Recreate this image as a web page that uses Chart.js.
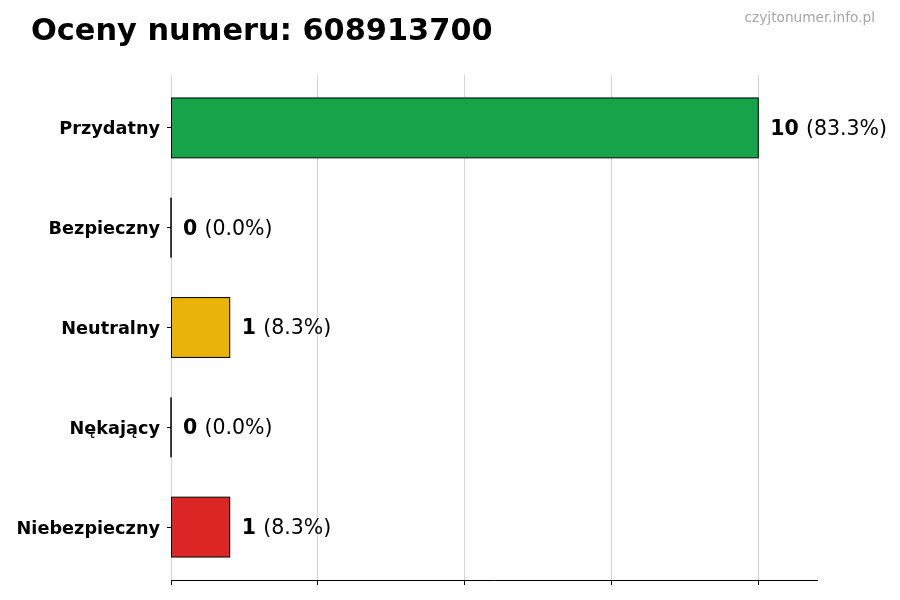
<!DOCTYPE html>
<html>
<head>
<meta charset="utf-8">
<script src="https://cdn.jsdelivr.net/npm/chart.js@4/dist/chart.umd.min.js"></script>
<style>
  html, body { margin: 0; padding: 0; background: #fff; }
  #wrap { position: relative; width: 900px; height: 600px; }
  #title { position: absolute; left: 31px; top: 12px; font-family: "DejaVu Sans", sans-serif; font-weight: bold; font-size: 30.4px; color: #000; white-space: nowrap; }
  #mark { position: absolute; right: 25px; top: 9px; font-family: "DejaVu Sans", sans-serif; font-size: 13.7px; color: #a6a6a6; white-space: nowrap; }
  canvas { position: absolute; left: 0; top: 0; }
</style>
</head>
<body>
<div id="wrap">
  <canvas id="c" width="900" height="600"></canvas>
  <div id="title">Oceny numeru: 608913700</div>
  <div id="mark">czyjtonumer.info.pl</div>
</div>
<script>
const categories = ['Przydatny', 'Bezpieczny', 'Neutralny', 'Nękający', 'Niebezpieczny'];
const counts = [10, 0, 1, 0, 1];
const percentLabels = ['83.3%', '0.0%', '8.3%', '0.0%', '8.3%'];
const barColors = ['#16a34a', '#2563eb', '#eab308', '#f97316', '#dc2626'];
const xTicks = [0, 2.5, 5, 7.5, 10];

const FONT = '"DejaVu Sans", sans-serif';

const outlineAndLabels = {
  id: 'outlineAndLabels',
  afterDatasetsDraw(chart) {
    const ctx = chart.ctx;
    const meta = chart.getDatasetMeta(0);
    ctx.save();
    meta.data.forEach((bar, i) => {
      const p = bar.getProps(['x', 'y', 'base', 'height'], true);
      ctx.strokeStyle = '#000';
      ctx.lineWidth = 1;
      ctx.strokeRect(p.base, p.y - p.height / 2, p.x - p.base, p.height);
      const x0 = p.x + 12;
      const ty = p.y + 1.5;
      ctx.textBaseline = 'middle';
      ctx.textAlign = 'left';
      ctx.fillStyle = '#000';
      ctx.font = 'bold 20.5px ' + FONT;
      const num = String(counts[i]);
      ctx.fillText(num, x0, ty);
      const w = ctx.measureText(num + ' ').width;
      ctx.font = '20.5px ' + FONT;
      ctx.fillText('(' + percentLabels[i] + ')', x0 + w, ty);
    });
    ctx.restore();
  }
};

new Chart(document.getElementById('c'), {
  type: 'bar',
  data: {
    datasets: [{
      data: counts.map((v, i) => ({ x: v, y: i })),
      backgroundColor: barColors,
      borderWidth: 0,
      categoryPercentage: 1,
      barPercentage: 0.6
    }]
  },
  options: {
    indexAxis: 'y',
    responsive: false,
    animation: false,
    layout: { padding: { top: 75, right: 83, bottom: 0, left: 0 } },
    plugins: { legend: { display: false }, tooltip: { enabled: false }, title: { display: false } },
    scales: {
      x: {
        type: 'linear',
        min: 0,
        max: 11,
        z: 1,
        afterBuildTicks: (axis) => { axis.ticks = xTicks.map(v => ({ value: v })); },
        afterFit: (scale) => { scale.height = 20; },
        ticks: { display: false },
        grid: {
          color: 'rgba(176,176,176,0.55)',
          lineWidth: 1,
          borderDash: [4, 2],
          drawTicks: true,
          tickLength: 5,
          tickColor: '#000',
          tickBorderDash: [],
          tickWidth: 1
        },
        border: { display: true, color: '#000', width: 1 }
      },
      y: {
        type: 'linear',
        reverse: true,
        offset: false,
        min: -0.53,
        max: 4.53,
        afterBuildTicks: (axis) => { axis.ticks = categories.map((c, i) => ({ value: i })); },
        afterFit: (scale) => { scale.width = 171; },
        ticks: {
          callback: (v) => categories[v],
          color: '#000',
          padding: 7,
          labelOffset: 2,
          font: { family: FONT, weight: 'bold', size: 17.7 }
        },
        grid: {
          offset: false,
          drawOnChartArea: false,
          drawTicks: true,
          tickLength: 4,
          tickColor: '#000'
        },
        border: { display: false }
      }
    }
  },
  plugins: [outlineAndLabels]
});
</script>
</body>
</html>
